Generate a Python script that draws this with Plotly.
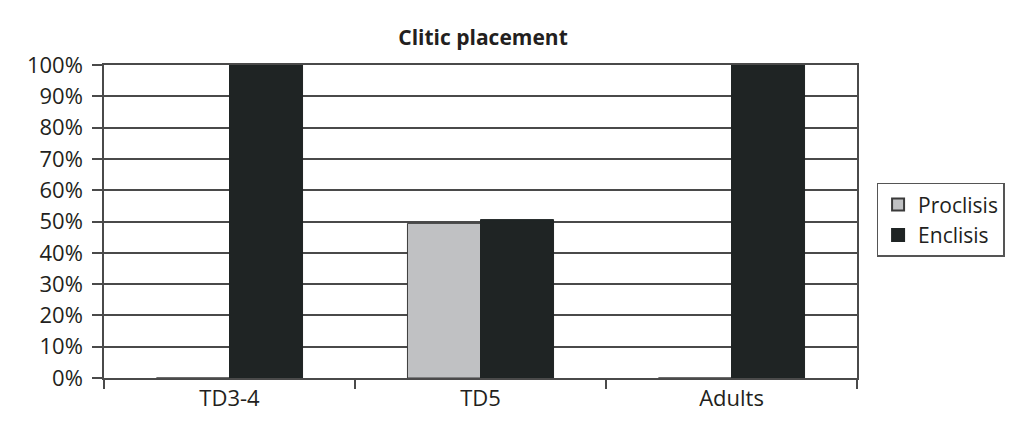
import plotly.graph_objects as go

categories = ["TD3-4", "TD5", "Adults"]
proclisis = [0, 49.4, 0]
enclisis = [100, 50.6, 100]
y_ticks = [0, 10, 20, 30, 40, 50, 60, 70, 80, 90, 100]
y_tick_labels = [f"{v}%" for v in y_ticks]

FONT = "Open Sans"
TXT = "#231f20"
LINE = "#4a4a4a"

fig = go.Figure()
fig.add_trace(go.Bar(name="Proclisis", x=categories, y=proclisis,
                     marker=dict(color="#c0c1c3", line=dict(color="#3a3a3a", width=1))))
fig.add_trace(go.Bar(name="Enclisis", x=categories, y=enclisis,
                     marker=dict(color="#1f2424", line=dict(color="#1f2424", width=1))))

fig.update_layout(
    width=1015, height=418,
    margin=dict(l=96, r=166, t=57, b=48),
    paper_bgcolor="white", plot_bgcolor="white",
    barmode="group", bargap=0.418, bargroupgap=0,
    font=dict(family=FONT, size=22, color=TXT),
    title=dict(text="<b>Clitic placement</b>", x=0.468, xanchor="center",
               y=1 - 30 / 418, yanchor="middle", font=dict(family=FONT, size=21, color=TXT)),
    legend=dict(x=1.026, xanchor="left", y=0.505, yanchor="middle",
                bordercolor="#555555", borderwidth=1.5, bgcolor="white",
                font=dict(family=FONT, size=21, color=TXT),
                itemsizing="constant", itemwidth=30, tracegroupgap=0),
    showlegend=True,
)
fig.update_xaxes(showline=True, linecolor=LINE, linewidth=1.5, mirror=True,
                 ticks="outside", tickson="boundaries", ticklen=9, tickcolor=LINE,
                 tickwidth=1.5, showgrid=False, tickfont=dict(family=FONT, size=22, color=TXT))
fig.update_yaxes(range=[0, 100], tickvals=y_ticks, ticktext=y_tick_labels,
                 showline=True, linecolor=LINE, linewidth=1.5, mirror=True,
                 ticks="outside", ticklen=10, tickcolor=LINE, tickwidth=1.5,
                 ticklabelstandoff=5,
                 showgrid=True, gridcolor=LINE, gridwidth=1.5, zeroline=False,
                 tickfont=dict(family=FONT, size=22, color=TXT))

fig.write_html("out.html")
